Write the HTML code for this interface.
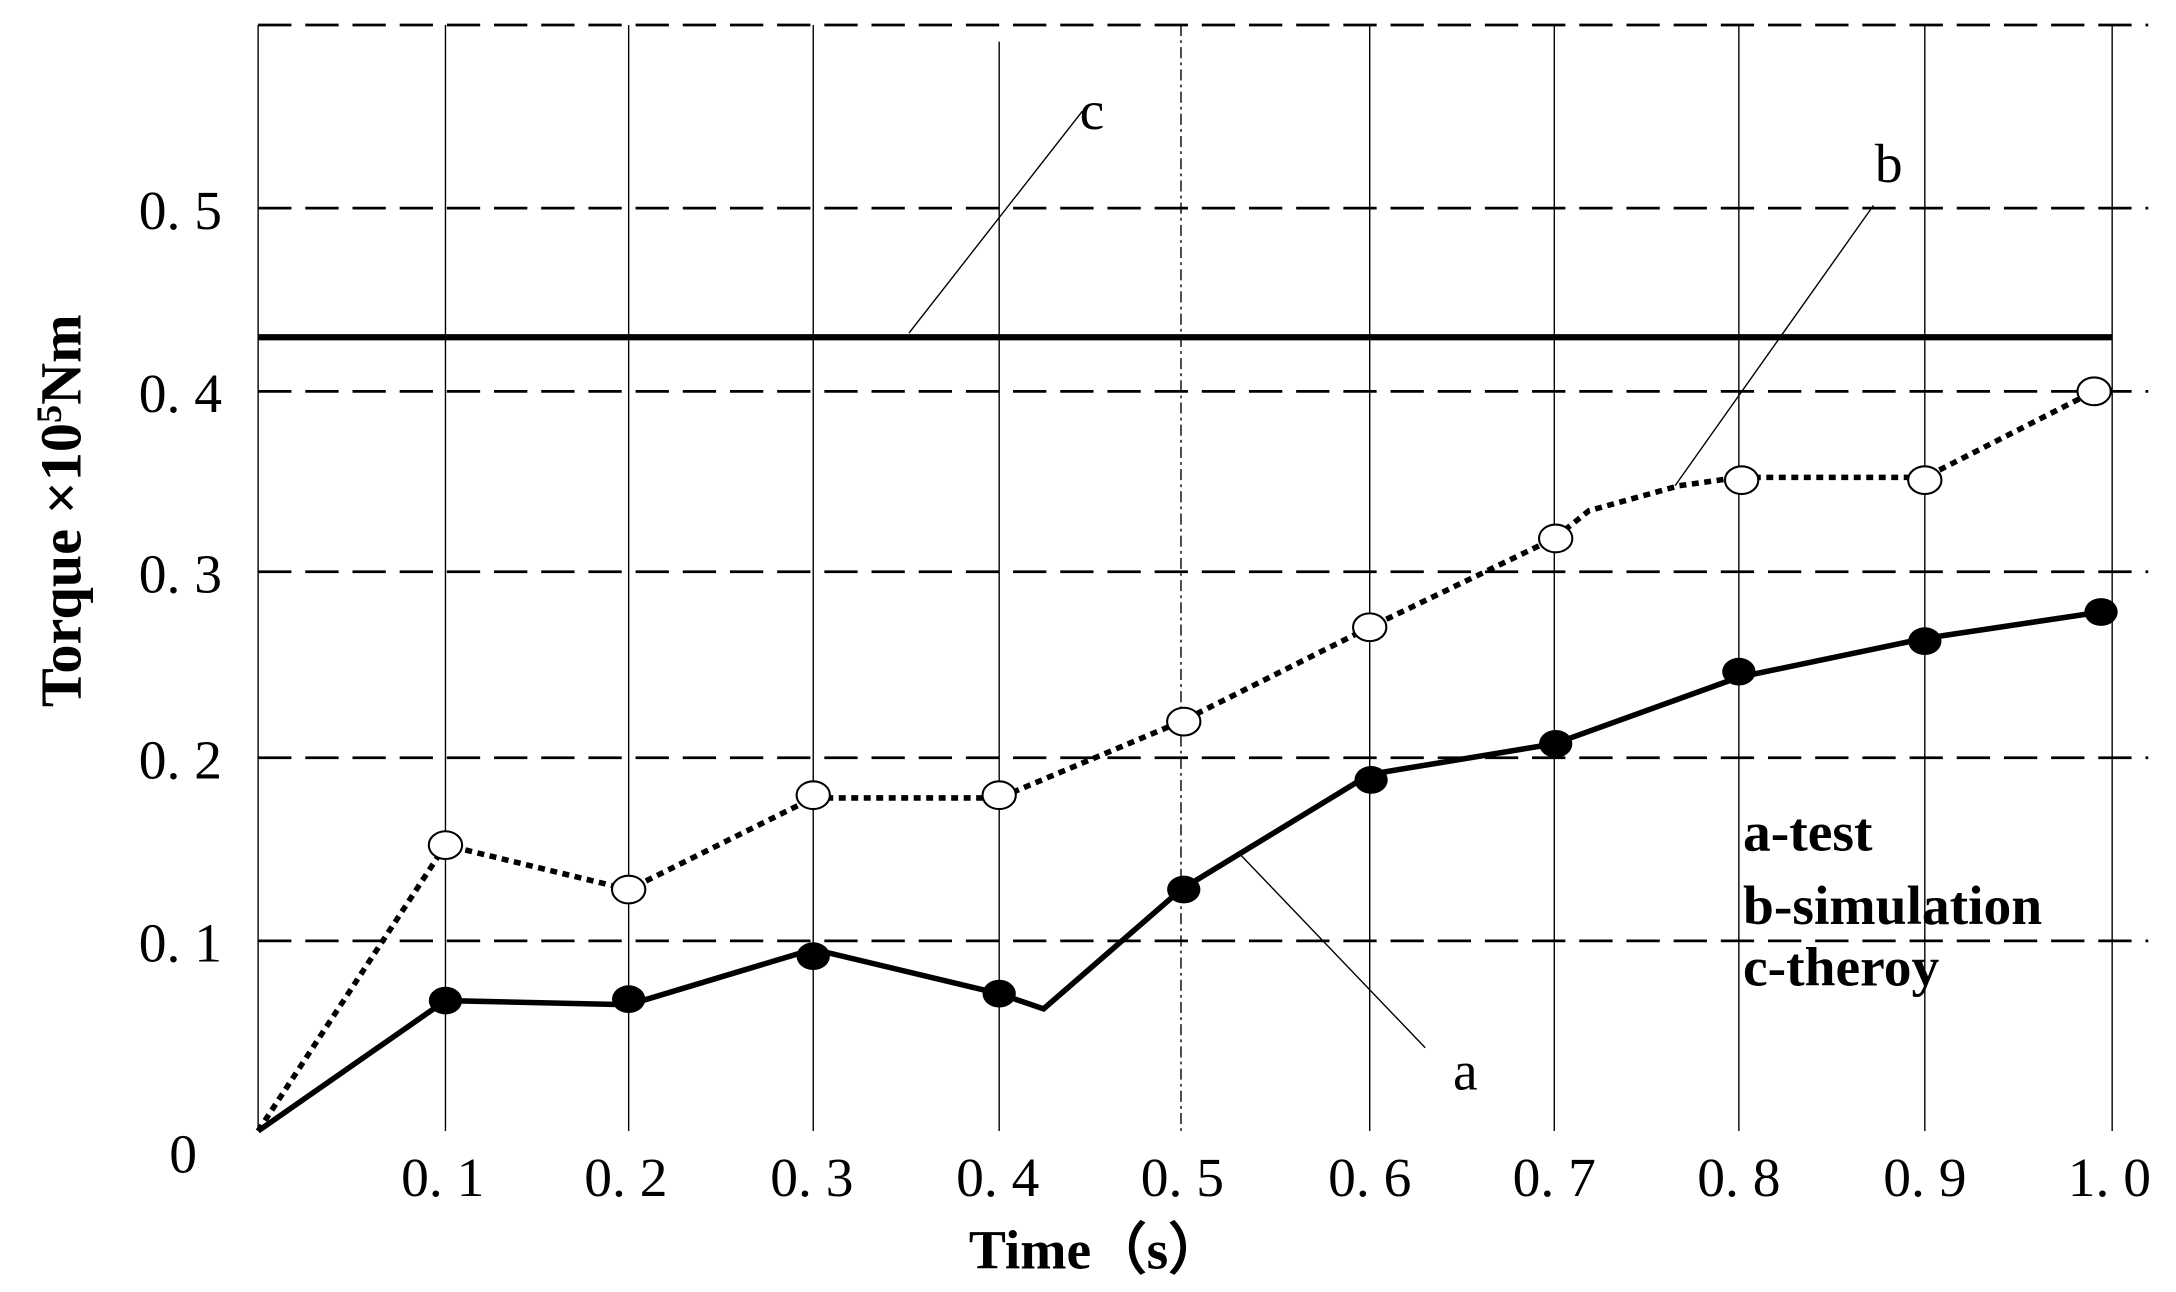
<!DOCTYPE html>
<html><head><meta charset="utf-8"><style>html,body{margin:0;padding:0;background:#fff}svg{display:block}</style></head><body>
<svg width="2176" height="1292" viewBox="0 0 1568 931" preserveAspectRatio="none" xmlns="http://www.w3.org/2000/svg">
<rect width="1568" height="931" fill="#fff"/>
<g stroke="#000" stroke-width="2" stroke-dasharray="24,10">
<line x1="186" y1="18" x2="1548" y2="18"/>
<line x1="186" y1="150" x2="1548" y2="150"/>
<line x1="186" y1="282" x2="1548" y2="282"/>
<line x1="186" y1="412" x2="1548" y2="412"/>
<line x1="186" y1="546" x2="1548" y2="546"/>
<line x1="186" y1="678" x2="1548" y2="678"/>
</g>
<g stroke="#000" stroke-width="1">
<line x1="186" y1="18" x2="186" y2="815"/>
<line x1="321" y1="18" x2="321" y2="815"/>
<line x1="453" y1="18" x2="453" y2="815"/>
<line x1="586" y1="18" x2="586" y2="815"/>
<line x1="720" y1="30" x2="720" y2="815"/>
<line x1="851" y1="18" x2="851" y2="815" stroke-dasharray="8,3,2,3"/>
<line x1="987" y1="18" x2="987" y2="815"/>
<line x1="1120" y1="18" x2="1120" y2="815"/>
<line x1="1253" y1="18" x2="1253" y2="815"/>
<line x1="1387" y1="18" x2="1387" y2="815"/>
<line x1="1522" y1="18" x2="1522" y2="815"/>
<line x1="655" y1="240" x2="780" y2="80"/>
<line x1="1207" y1="350" x2="1350" y2="148"/>
<line x1="893" y1="615" x2="1027" y2="755"/>
</g>
<line x1="186" y1="243" x2="1522" y2="243" stroke="#000" stroke-width="4.5"/>
<polyline fill="none" stroke="#000" stroke-width="4" points="186,815 321,721 453,724 586,684 720,716 752,727 851,641 987,558 1120,536 1253,488 1387,460 1514,441"/>
<polyline fill="none" stroke="#000" stroke-width="4" stroke-dasharray="5,4" points="186,815 321,609 453,641 586,575 720,575 851,520 987,452 1120,388 1145,368 1210,350 1253,344 1387,344 1509,282"/>
<g fill="#000">
<ellipse cx="321" cy="721" rx="12" ry="10"/><ellipse cx="453" cy="720" rx="12" ry="10"/><ellipse cx="586" cy="689" rx="12" ry="10"/><ellipse cx="720" cy="716" rx="12" ry="10"/><ellipse cx="853" cy="641" rx="12" ry="10"/><ellipse cx="988" cy="562" rx="12" ry="10"/><ellipse cx="1121" cy="536" rx="12" ry="10"/><ellipse cx="1253" cy="484" rx="12" ry="10"/><ellipse cx="1387" cy="462" rx="12" ry="10"/><ellipse cx="1514" cy="441" rx="12" ry="10"/>
</g>
<g fill="#fff" stroke="#000" stroke-width="1.5">
<ellipse cx="321" cy="609" rx="12" ry="10"/><ellipse cx="453" cy="641" rx="12" ry="10"/><ellipse cx="586" cy="573" rx="12" ry="10"/><ellipse cx="720" cy="573" rx="12" ry="10"/><ellipse cx="853" cy="520" rx="12" ry="10"/><ellipse cx="987" cy="452" rx="12" ry="10"/><ellipse cx="1121" cy="388" rx="12" ry="10"/><ellipse cx="1255" cy="346" rx="12" ry="10"/><ellipse cx="1387" cy="346" rx="12" ry="10"/><ellipse cx="1509" cy="282" rx="12" ry="10"/>
</g>
<g font-family="Liberation Serif, serif" font-size="40" fill="#000">
<text x="100" y="165">0. 5</text>
<text x="100" y="297">0. 4</text>
<text x="100" y="427">0. 3</text>
<text x="100" y="561">0. 2</text>
<text x="100" y="693">0. 1</text>
<text x="122" y="845">0</text>
<g text-anchor="middle">
<text x="319" y="862">0. 1</text><text x="451" y="862">0. 2</text><text x="585" y="862">0. 3</text><text x="719" y="862">0. 4</text><text x="852" y="862">0. 5</text><text x="987" y="862">0. 6</text><text x="1120" y="862">0. 7</text><text x="1253" y="862">0. 8</text><text x="1387" y="862">0. 9</text><text x="1520" y="862">1. 0</text>
</g>
<text x="778" y="93">c</text>
<text x="1351" y="131">b</text>
<text x="1047" y="785">a</text>
</g>
<g font-family="Liberation Serif, serif" font-weight="bold" fill="#000">
<text x="790" y="914" font-size="40" text-anchor="middle">Time（s）</text>
<text transform="translate(58,368) rotate(-90)" font-size="42" text-anchor="middle">Torque ×10<tspan font-size="26" dy="-14">5</tspan><tspan dy="14">Nm</tspan></text>
<text x="1256" y="613" font-size="40">a-test</text>
<text x="1256" y="666" font-size="40">b-simulation</text>
<text x="1256" y="710" font-size="40">c-theroy</text>
</g>
</svg>
</body></html>
